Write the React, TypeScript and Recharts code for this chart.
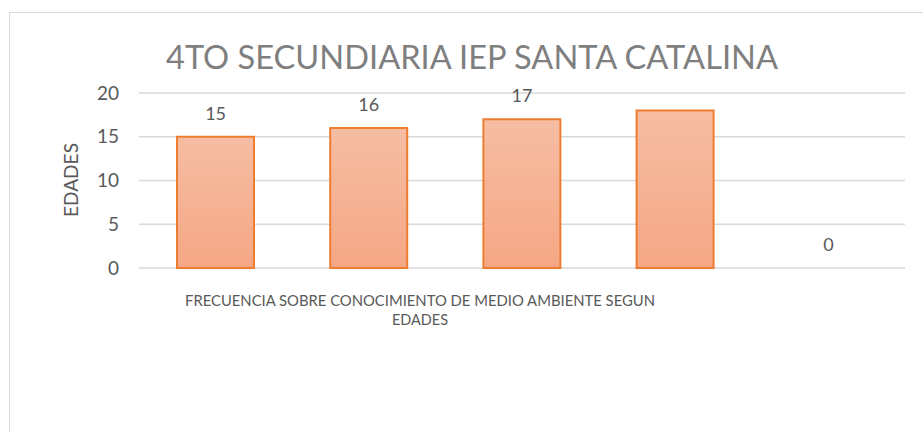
import React from 'react';
import { BarChart, Bar, XAxis, YAxis, CartesianGrid, ReferenceDot, Customized } from 'recharts';

const categories = ['15', '16', '17', '18', 'Otros'];
const values = [15, 16, 17, 18, 0];
const shownLabels = ['15', '16', '17', '', '0'];
const yTicks = [0, 5, 10, 15, 20];
const title = '4TO SECUNDIARIA IEP SANTA CATALINA';
const xTitleLines = ['FRECUENCIA SOBRE CONOCIMIENTO DE MEDIO AMBIENTE SEGUN', 'EDADES'];
const yTitle = 'EDADES';

const data = categories.map((c, i) => ({ name: c, value: values[i], label: shownLabels[i] }));

const FONT = 'Lato, "Open Sans", sans-serif';

const makeLabel = (text: string) => (props: any) => {
  const vb = props.viewBox || {};
  const cx = Number(vb.x) + Number(vb.width || 0) / 2;
  const cy = Number(vb.y) + Number(vb.height || 0) / 2;
  return (
    <text
      x={cx}
      y={cy - 24}
      textAnchor="middle"
      dominantBaseline="central"
      fontSize={18}
      fontFamily={FONT}
      fill="#595959"
    >
      {text}
    </text>
  );
};

const Titles = () => (
  <g>
    <text
      x={472}
      y={56}
      textAnchor="middle"
      dominantBaseline="central"
      fontSize={32}
      fontFamily={FONT}
      fill="#7f7f7f"
      textLength={612}
      lengthAdjust="spacingAndGlyphs"
    >
      {title}
    </text>
    {xTitleLines.map((t, i) => (
      <text
        key={i}
        x={420}
        y={299.5 + i * 19}
        textAnchor="middle"
        dominantBaseline="central"
        fontSize={15.5}
        fontFamily={FONT}
        fill="#595959"
        textLength={i === 0 ? 470 : 56}
        lengthAdjust="spacingAndGlyphs"
      >
        {t}
      </text>
    ))}
    <text
      x={70}
      y={180}
      textAnchor="middle"
      dominantBaseline="central"
      fontSize={19}
      fontFamily={FONT}
      fill="#595959"
      transform="rotate(-90 70 180)"
      textLength={74}
      lengthAdjust="spacingAndGlyphs"
    >
      {yTitle}
    </text>
  </g>
);

export default function App() {
  return (
    <div style={{ position: 'absolute', left: 0, top: 0, width: 923, height: 432, background: '#fff' }}>
      <div
        style={{
          position: 'absolute',
          left: 9,
          top: 12,
          width: 920,
          height: 430,
          borderLeft: '1px solid #d9d9d9',
          borderTop: '1px solid #d9d9d9',
        }}
      />
      <BarChart
        width={923}
        height={432}
        data={data}
        margin={{ top: 93, right: 18, bottom: 164, left: 0 }}
        style={{ position: 'absolute', left: 0, top: 0 }}
      >
        <defs>
          <linearGradient id="barGrad" x1="0" y1="0" x2="0" y2="1">
            <stop offset="0%" stopColor="#F6BDA3" />
            <stop offset="100%" stopColor="#F5A785" />
          </linearGradient>
        </defs>
        <CartesianGrid vertical={false} stroke="#d9d9d9" strokeWidth={1.5} />
        <XAxis dataKey="name" tick={false} tickLine={false} axisLine={false} height={0} />
        <YAxis
          width={139}
          domain={[0, 20]}
          ticks={yTicks}
          tickLine={false}
          axisLine={false}
          tickMargin={14}
          tick={{ fontSize: 19, fontFamily: FONT, fill: '#595959' }}
        />
        <Bar dataKey="value" barSize={77} fill="url(#barGrad)" stroke="#ED7D31" strokeWidth={2} isAnimationActive={false} />
        {data
          .filter((d) => d.label !== '')
          .map((d) => (
            <ReferenceDot
              key={d.name}
              x={d.name}
              y={d.value}
              r={1}
              fill="none"
              stroke="none"
              label={makeLabel(d.label)}
            />
          ))}
        <Customized component={Titles} />
      </BarChart>
    </div>
  );
}
